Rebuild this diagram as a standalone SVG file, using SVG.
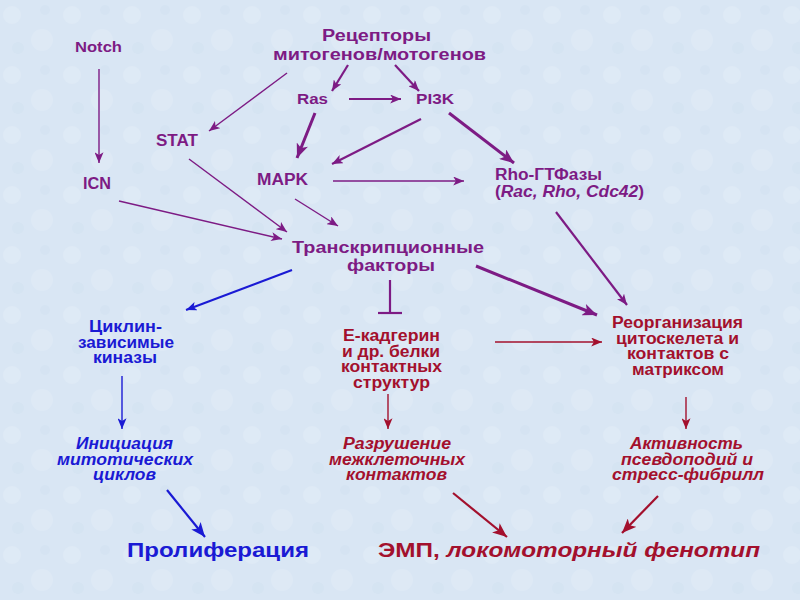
<svg xmlns="http://www.w3.org/2000/svg" width="800" height="600" viewBox="0 0 800 600">
<defs>
<style>
text{font-family:"Liberation Sans","Arial",sans-serif;font-weight:bold;font-size:16px}
.p{fill:#7d1b84}
.b{fill:#1a1ad4}
.r{fill:#a3102d}
.i{font-style:italic}
.s{font-size:14.5px}
.big{font-size:21px}
.cp{stroke:#7d1b84;fill:none}
.cb{stroke:#1a1ad4;fill:none}
.cr{stroke:#a3102d;fill:none}
.t{stroke-width:1.4}
.k{stroke-width:3}
.m{stroke-width:2.2}
</style>
<marker id="ap" viewBox="0 0 12 10" refX="12" refY="5" markerWidth="11" markerHeight="9" markerUnits="userSpaceOnUse" orient="auto"><path d="M0,0 L12,5 L0,10 L3,5 z" fill="#7d1b84"/></marker>
<marker id="apB" viewBox="0 0 12 10" refX="12" refY="5" markerWidth="16" markerHeight="12" markerUnits="userSpaceOnUse" orient="auto"><path d="M0,0 L12,5 L0,10 L3,5 z" fill="#7d1b84"/></marker>
<marker id="ab" viewBox="0 0 12 10" refX="12" refY="5" markerWidth="11" markerHeight="9" markerUnits="userSpaceOnUse" orient="auto"><path d="M0,0 L12,5 L0,10 L3,5 z" fill="#1a1ad4"/></marker>
<marker id="abB" viewBox="0 0 12 10" refX="12" refY="5" markerWidth="15" markerHeight="12" markerUnits="userSpaceOnUse" orient="auto"><path d="M0,0 L12,5 L0,10 L3,5 z" fill="#1a1ad4"/></marker>
<marker id="ar" viewBox="0 0 12 10" refX="12" refY="5" markerWidth="11" markerHeight="9" markerUnits="userSpaceOnUse" orient="auto"><path d="M0,0 L12,5 L0,10 L3,5 z" fill="#a3102d"/></marker>
<marker id="arB" viewBox="0 0 12 10" refX="12" refY="5" markerWidth="15" markerHeight="12" markerUnits="userSpaceOnUse" orient="auto"><path d="M0,0 L12,5 L0,10 L3,5 z" fill="#a3102d"/></marker>
<pattern id="tex" width="60" height="60" patternUnits="userSpaceOnUse">
<circle cx="12" cy="15" r="9" fill="#ffffff" opacity="0.14"/>
<circle cx="42" cy="40" r="11" fill="#ffffff" opacity="0.12"/>
<circle cx="45" cy="10" r="5" fill="#c4d6ec" opacity="0.2"/>
<circle cx="18" cy="48" r="6" fill="#c4d6ec" opacity="0.18"/>
</pattern>
</defs>
<rect width="800" height="600" fill="#d9e6f4"/>
<rect width="800" height="600" fill="url(#tex)"/>

<g id="connectors">
<line class="cp t" x1="99" y1="69" x2="99" y2="163" marker-end="url(#ap)"/>
<line class="cp m" x1="348" y1="65" x2="332" y2="91" marker-end="url(#ap)"/>
<line class="cp m" x1="395" y1="65" x2="419" y2="91" marker-end="url(#ap)"/>
<line class="cp t" x1="287" y1="73" x2="209" y2="131" marker-end="url(#ap)"/>
<line class="cp m" x1="349" y1="99" x2="401" y2="99" marker-end="url(#ap)"/>
<line class="cp k" x1="315" y1="113" x2="297" y2="158" marker-end="url(#apB)"/>
<line class="cp m" x1="421" y1="119" x2="332" y2="164" marker-end="url(#ap)"/>
<line class="cp k" x1="449" y1="113" x2="514" y2="163" marker-end="url(#apB)"/>
<line class="cp t" x1="189" y1="159" x2="287" y2="232" marker-end="url(#ap)"/>
<line class="cp t" x1="119" y1="201" x2="282" y2="239" marker-end="url(#ap)"/>
<line class="cp t" x1="295" y1="199" x2="338" y2="226" marker-end="url(#ap)"/>
<line class="cp t" x1="333" y1="181" x2="464" y2="181" marker-end="url(#ap)"/>
<line class="cp m" x1="556" y1="212" x2="627" y2="305" marker-end="url(#ap)"/>
<line class="cb m" x1="292" y1="270" x2="186" y2="310" marker-end="url(#ab)"/>
<line class="cp m" x1="390" y1="280" x2="390" y2="313"/>
<line class="cp m" x1="378" y1="313" x2="402" y2="313"/>
<line class="cp k" x1="476" y1="266" x2="597" y2="315" marker-end="url(#apB)"/>
<line class="cb t" x1="122" y1="376" x2="122" y2="429" marker-end="url(#ab)"/>
<line class="cr t" x1="495" y1="342" x2="602" y2="342" marker-end="url(#ar)"/>
<line class="cr t" x1="388" y1="394" x2="388" y2="429" marker-end="url(#ar)"/>
<line class="cr t" x1="686" y1="397" x2="686" y2="429" marker-end="url(#ar)"/>
<line class="cb m" x1="167" y1="490" x2="205" y2="537" marker-end="url(#abB)"/>
<line class="cr m" x1="453" y1="493" x2="507" y2="537" marker-end="url(#arB)"/>
<line class="cr m" x1="658" y1="496" x2="622" y2="533" marker-end="url(#arB)"/>
</g>

<g id="receptors" class="p"><text x="322" y="41" textLength="109" lengthAdjust="spacingAndGlyphs">Рецепторы</text><text x="273" y="60" textLength="213" lengthAdjust="spacingAndGlyphs">митогенов/мотогенов</text></g>
<g id="notch" class="p"><text x="75" y="52" textLength="47" lengthAdjust="spacingAndGlyphs" style="font-size:15px">Notch</text></g>
<g id="ras" class="p"><text x="297" y="104" textLength="31" lengthAdjust="spacingAndGlyphs" style="font-size:15px">Ras</text></g>
<g id="pi3k" class="p"><text x="416" y="104" textLength="38" lengthAdjust="spacingAndGlyphs" style="font-size:15px">PI3K</text></g>
<g id="stat" class="p"><text x="156" y="146" textLength="42" lengthAdjust="spacingAndGlyphs">STAT</text></g>
<g id="icn" class="p"><text x="83" y="189" textLength="28" lengthAdjust="spacingAndGlyphs">ICN</text></g>
<g id="mapk" class="p"><text x="257" y="185" textLength="51" lengthAdjust="spacingAndGlyphs">MAPK</text></g>
<g id="rho" class="p"><text x="495" y="180" textLength="107" lengthAdjust="spacingAndGlyphs">Rho-ГТФазы</text><text x="495" y="197" textLength="149" lengthAdjust="spacingAndGlyphs">(<tspan class="i">Rac, Rho, Cdc42</tspan>)</text></g>
<g id="tf" class="p"><text x="292" y="253" textLength="192" lengthAdjust="spacingAndGlyphs" style="font-size:17px">Транскрипционные</text><text x="347" y="271" textLength="88" lengthAdjust="spacingAndGlyphs" style="font-size:17px">факторы</text></g>
<g id="cdk" class="b s"><text x="89" y="332" textLength="73" lengthAdjust="spacingAndGlyphs">Циклин-</text><text x="78" y="347.5" textLength="96" lengthAdjust="spacingAndGlyphs">зависимые</text><text x="93" y="363" textLength="64" lengthAdjust="spacingAndGlyphs">киназы</text></g>
<g id="ecad" class="r s"><text x="343" y="341" textLength="97" lengthAdjust="spacingAndGlyphs">Е-кадгерин</text><text x="342" y="356.5" textLength="98" lengthAdjust="spacingAndGlyphs">и др. белки</text><text x="341" y="372" textLength="101" lengthAdjust="spacingAndGlyphs">контактных</text><text x="353" y="387.5" textLength="77" lengthAdjust="spacingAndGlyphs">структур</text></g>
<g id="reorg" class="r s"><text x="612" y="328" textLength="131" lengthAdjust="spacingAndGlyphs">Реорганизация</text><text x="616" y="343.5" textLength="123" lengthAdjust="spacingAndGlyphs">цитоскелета и</text><text x="627" y="359" textLength="102" lengthAdjust="spacingAndGlyphs">контактов с</text><text x="632" y="374.5" textLength="92" lengthAdjust="spacingAndGlyphs">матриксом</text></g>
<g id="init" class="b i s"><text x="76" y="449" textLength="97" lengthAdjust="spacingAndGlyphs">Инициация</text><text x="57" y="464.5" textLength="136" lengthAdjust="spacingAndGlyphs">митотических</text><text x="93" y="480" textLength="63" lengthAdjust="spacingAndGlyphs">циклов</text></g>
<g id="destr" class="r i s"><text x="343" y="449" textLength="108" lengthAdjust="spacingAndGlyphs">Разрушение</text><text x="329" y="464.5" textLength="136" lengthAdjust="spacingAndGlyphs">межклеточных</text><text x="346" y="480" textLength="101" lengthAdjust="spacingAndGlyphs">контактов</text></g>
<g id="activity" class="r i s"><text x="630" y="449" textLength="113" lengthAdjust="spacingAndGlyphs">Активность</text><text x="621" y="464.5" textLength="132" lengthAdjust="spacingAndGlyphs">псевдоподий и</text><text x="612" y="480" textLength="152" lengthAdjust="spacingAndGlyphs">стресс-фибрилл</text></g>
<g id="prolif" class="b"><text class="big" x="127" y="557" textLength="182" lengthAdjust="spacingAndGlyphs">Пролиферация</text></g>
<g id="emt" class="r"><text class="big" x="378" y="557" textLength="382" lengthAdjust="spacingAndGlyphs">ЭМП, <tspan class="i">локомоторный фенотип</tspan></text></g>
</svg>
